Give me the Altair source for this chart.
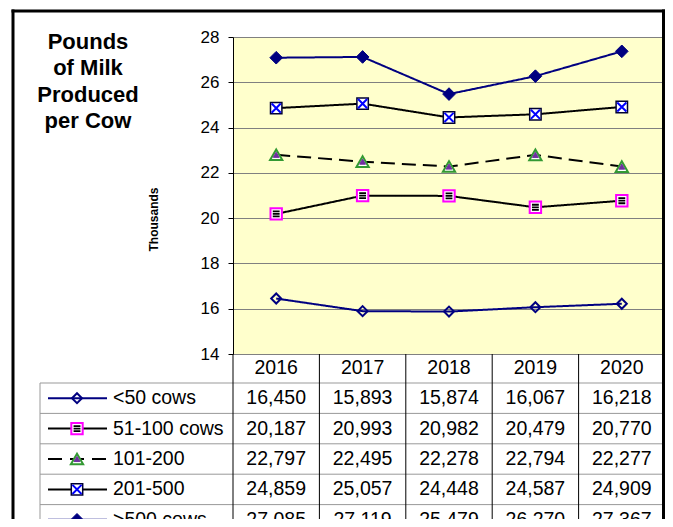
import altair as alt
import pandas as pd

# ---------------- data ----------------
years = ["2016", "2017", "2018", "2019", "2020"]
series = ["<50 cows", "51-100 cows", "101-200", "201-500", ">500 cows"]
v_lt50 = [16450, 15893, 15874, 16067, 16218]
v_51_100 = [20187, 20993, 20982, 20479, 20770]
v_101_200 = [22797, 22495, 22278, 22794, 22277]
v_201_500 = [24859, 25057, 24448, 24587, 24909]
v_gt500 = [27085, 27119, 25479, 26270, 27367]
title_lines = ["Pounds", "of Milk", "Produced", "per Cow"]
y_ticks = [14, 16, 18, 20, 22, 24, 26, 28]
y_title = "Thousands"

all_values = [v_lt50, v_51_100, v_101_200, v_201_500, v_gt500]

# ---------------- layout ----------------
W, H = 432, 317
STEP = W / 5
ROW_H = 30.4
HEADER_BOTTOM = 346
ROW_RANGE = [HEADER_BOTTOM + ROW_H / 2, HEADER_BOTTOM + ROW_H * 4.5]
LEG_LEFT = -193
FONT = "Liberation Sans"
YELLOW = "#FFFFCC"
NAVY = "#000080"

recs = []
for s, vals in zip(series, all_values):
    for yr, v in zip(years, vals):
        recs.append({"series": s, "year": yr, "value": v / 1000, "label": f"{v:,}", "row": s})
df = pd.DataFrame(recs)
df_series = pd.DataFrame({"row": series})
df_years = pd.DataFrame({"year": years})
df_one = pd.DataFrame({"k": [0]})

xenc = alt.X("year:O", scale=alt.Scale(type="point", padding=0.5, domain=years), axis=None)


def yq(axis=None):
    return alt.Y("value:Q", scale=alt.Scale(domain=[14, 28], nice=False, zero=False), axis=axis)


yrow = alt.Y("row:N", scale=alt.Scale(type="point", domain=series, range=ROW_RANGE, padding=0), axis=None)

STRIPES = "M-0.6,-0.45H0.6M-0.6,0H0.6M-0.6,0.45H0.6"
XMARK = "M-0.8,-0.8L0.8,0.8M-0.8,0.8L0.8,-0.8"

styles = {
    "<50 cows": dict(color=NAVY, dash=[1, 0], leg_dash=[1, 0],
                     markers=[("diamond", 100, None, NAVY, 2)]),
    "51-100 cows": dict(color="black", dash=[1, 0], leg_dash=[1, 0],
                        markers=[("square", 130, "white", "#FF00FF", 2),
                                 (STRIPES, 130, None, "black", 1.8)]),
    "101-200": dict(color="black", dash=[14, 7], leg_dash=[14, 8],
                    markers=[("triangle-up", 150, "white", "#339933", 2),
                             ("triangle-up", 35, "#7030A0", "#7030A0", 1)]),
    "201-500": dict(color="black", dash=[1, 0], leg_dash=[1, 0],
                    markers=[("square", 130, "white", "#000033", 1.5),
                             (XMARK, 130, None, "#0000FF", 2)]),
    ">500 cows": dict(color=NAVY, dash=[1, 0], leg_dash=[1, 0],
                      markers=[("diamond", 160, NAVY, NAVY, 1)]),
}


def point_mark(shape, size, fill, stroke, sw):
    kw = dict(shape=shape, size=size, opacity=1, strokeWidth=sw, strokeOpacity=1)
    if fill is None:
        kw.update(filled=False, fillOpacity=0, stroke=stroke)
    else:
        kw.update(filled=True, fill=fill, fillOpacity=1, stroke=stroke)
    return alt.Chart().mark_point(**kw)


layers = []

# axis layer (gridlines, y axis)
axis_layer = alt.Chart(df).mark_line(opacity=0).encode(
    x=xenc,
    y=yq(alt.Axis(values=y_ticks, title=y_title, grid=True, gridColor="#808080", gridWidth=1,
                  domainColor="black", tickColor="black", tickSize=5, labelPadding=9,
                  labelFontSize=17, labelFont=FONT, labelColor="black",
                  titleFont=FONT, titleFontSize=12, titleFontWeight="bold", titleColor="black",
                  titleAngle=270, titleX=-80, titleY=182, titleAlign="center",
                  titleBaseline="middle")),
    detail="series:N",
)
layers.append(axis_layer)

# table grid
layers.append(alt.Chart(df_series).mark_rule(color="#999999", strokeWidth=1, yOffset=ROW_H / 2).encode(
    y=yrow, x=alt.value(LEG_LEFT), x2=alt.value(W)))
layers.append(alt.Chart(df_one).mark_rule(color="#999999", strokeWidth=1).encode(
    y=alt.value(HEADER_BOTTOM), x=alt.value(LEG_LEFT), x2=alt.value(W)))
layers.append(alt.Chart(df_one).mark_rule(color="#999999", strokeWidth=1).encode(
    x=alt.value(LEG_LEFT), y=alt.value(HEADER_BOTTOM), y2=alt.value(H + 240)))
layers.append(alt.Chart(df_years).mark_rule(color="black", strokeWidth=1, xOffset=STEP / 2).encode(
    x=xenc, y=alt.value(H), y2=alt.value(H + 240)))
layers.append(alt.Chart(df_one).mark_rule(color="black", strokeWidth=1).encode(
    x=alt.value(0), y=alt.value(H), y2=alt.value(H + 240)))

# series lines and markers
for s in series:
    st = styles[s]
    sub = df[df["series"] == s]
    layers.append(alt.Chart(sub).mark_line(color=st["color"], strokeWidth=2, strokeDash=st["dash"]).encode(
        x=xenc, y=yq()))
    for (shape, size, fill, stroke, sw) in st["markers"]:
        layers.append(point_mark(shape, size, fill, stroke, sw).properties(data=sub).encode(x=xenc, y=yq()))
    # legend sample in table
    leg = df_series[df_series["row"] == s]
    layers.append(alt.Chart(leg).mark_rule(color=st["color"], strokeWidth=2, strokeDash=st["leg_dash"]).encode(
        x=alt.value(-185), x2=alt.value(-126), y=yrow))
    for (shape, size, fill, stroke, sw) in st["markers"]:
        layers.append(point_mark(shape, size, fill, stroke, sw).properties(data=leg).encode(
            x=alt.value(-156), y=yrow))

# legend labels
layers.append(alt.Chart(df_series).mark_text(font=FONT, fontSize=19.5, align="left", baseline="middle",
                                             color="black").encode(
    x=alt.value(-120), y=yrow, text="row:N"))
# table values
layers.append(alt.Chart(df).mark_text(font=FONT, fontSize=19.5, align="center", baseline="middle",
                                      color="black").encode(
    x=xenc, y=yrow, text="label:N"))
# header years
layers.append(alt.Chart(df_years).mark_text(font=FONT, fontSize=19.5, align="center", baseline="middle",
                                            color="black").encode(
    x=xenc, y=alt.value(331), text="year:N"))
# title
layers.append(alt.Chart(df_one).mark_text(text=title_lines, font=FONT, fontSize=22, fontWeight="bold",
                                          align="center", baseline="alphabetic", lineHeight=26.3,
                                          color="black").encode(
    x=alt.value(-145), y=alt.value(12)))

# outer frame
layers.append(alt.Chart(df_one).mark_rule(color="black", strokeWidth=3).encode(
    x=alt.value(-220), y=alt.value(-27.5), y2=alt.value(H + 240)))
layers.append(alt.Chart(df_one).mark_rule(color="black", strokeWidth=3).encode(
    y=alt.value(-26), x=alt.value(-221.5), x2=alt.value(W)))
layers.append(alt.Chart(df_one).mark_rule(color="black", strokeWidth=3).encode(
    x=alt.value(W - 1.5), y=alt.value(-27.5), y2=alt.value(H + 240)))

chart = alt.layer(*layers).resolve_scale(y="independent").properties(
    width=W, height=H,
    autosize=alt.AutoSizeParams(type="none"),
    padding={"left": 225, "top": 29, "right": 0, "bottom": 165},
    background="white",
).configure_view(fill=YELLOW, stroke=None)

chart.save("out.html", embed_options={"renderer": "svg", "actions": False})
